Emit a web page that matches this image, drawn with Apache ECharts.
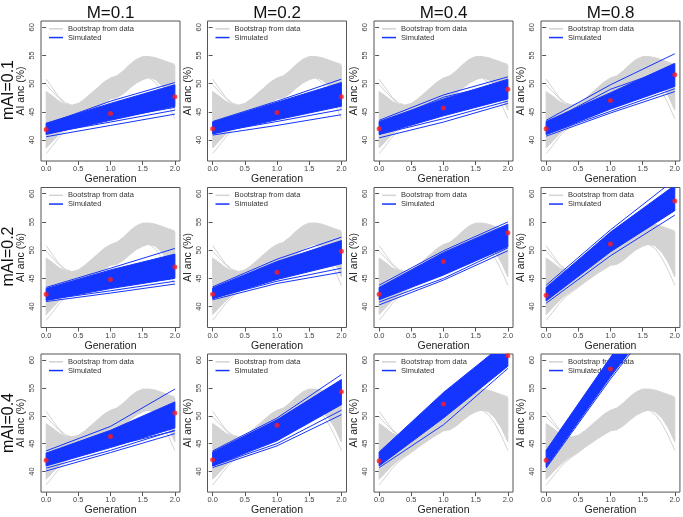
<!DOCTYPE html>
<html><head><meta charset="utf-8">
<script src="https://cdn.jsdelivr.net/npm/echarts@6/dist/echarts.min.js"></script>
<style>html,body{margin:0;padding:0;background:#fff}#c{width:683px;height:517px}</style>
</head><body><div id="c"></div>
<script>
// ---------- labels / ticks ----------
const colLabels = ['M=0.1', 'M=0.2', 'M=0.4', 'M=0.8'];
const rowLabels = ['mAI=0.1', 'mAI=0.2', 'mAI=0.4'];
const generations = [0, 1, 2];
const xTicks = [0, 0.5, 1, 1.5, 2];
const yTicks = [40, 45, 50, 55, 60];

// ---------- bootstrap (gray) curves, same in every panel ----------
const grayX = [0, 0.1, 0.2, 0.3, 0.4, 0.5, 0.6, 0.7, 0.8, 0.9, 1.0, 1.1, 1.2, 1.3, 1.4, 1.5, 1.6, 1.7, 1.8, 1.9, 2.0];
const grayCoreUpper = [48.6, 47.8, 46.9, 46.3, 46.0, 46.4, 47.2, 48.2, 49.2, 50.2, 50.9, 51.3, 52.2, 53.3, 54.2, 54.7, 54.7, 54.5, 54.1, 53.7, 53.2];
const grayCoreLower = [38.6, 39.8, 41.0, 42.0, 42.8, 43.6, 44.4, 45.2, 46.0, 46.7, 47.4, 47.6, 48.3, 49.3, 50.2, 50.8, 51.1, 50.7, 49.6, 47.8, 45.3];
const grayCurve1 = [50.8, 49.2, 47.6, 46.6, 46.2, 46.5, 47.3, 48.3, 49.3, 50.3, 51.0, 51.4, 52.3, 53.4, 54.3, 54.8, 54.8, 54.6, 54.2, 53.8, 53.4];
const grayCurve2 = [49.8, 48.6, 47.4, 46.4, 46.1, 46.4, 47.2, 48.1, 49.1, 50.0, 50.7, 51.1, 52.0, 53.1, 54.0, 54.5, 54.6, 54.3, 53.9, 53.4, 52.9];
const grayCurve3 = [37.6, 39.0, 40.5, 41.7, 42.6, 43.4, 44.3, 45.1, 45.9, 46.6, 47.3, 47.5, 48.2, 49.2, 50.1, 50.7, 51.1, 50.9, 50.0, 48.9, 47.6];
const grayCurve4 = [40.2, 41.1, 41.9, 42.5, 43.0, 43.7, 44.5, 45.3, 46.1, 46.8, 47.5, 47.8, 48.5, 49.5, 50.4, 51.0, 51.0, 50.2, 48.6, 46.4, 43.8];
const grayCurve5 = [46.5, 46.0, 45.6, 45.4, 45.5, 46.0, 46.8, 47.7, 48.6, 49.4, 50.1, 50.4, 51.2, 52.3, 53.2, 53.6, 53.5, 52.6, 51.0, 48.8, 46.0];

// ---------- simulated (blue) bundles and observed (red) points, per panel ----------
// row mAI=0.1
const red_1_1 = [41.9, 44.7, 47.7], blueLo_1_1 = [41.0, 43.5, 46.0], blueHi_1_1 = [43.0, 46.5, 49.8];
const blueLines_1_1 = [[40.6, 42.6, 44.6], [41.2, 43.2, 45.3], [41.5, 43.8, 45.8], [42.8, 46.9, 50.2]];
const red_1_2 = [42.0, 44.9, 47.7], blueLo_1_2 = [41.1, 43.6, 46.0], blueHi_1_2 = [43.2, 46.7, 50.2];
const blueLines_1_2 = [[40.9, 42.6, 44.5], [41.3, 43.3, 45.4], [43.3, 46.9, 50.8]];
const red_1_3 = [42.0, 45.7, 49.0], blueLo_1_3 = [41.0, 44.3, 47.3], blueHi_1_3 = [43.3, 47.3, 50.8];
const blueLines_1_3 = [[40.4, 43.2, 46.5], [43.5, 48.0, 51.2], [42.9, 47.6, 50.3], [41.0, 43.8, 46.9]];
const red_1_4 = [42.0, 47.0, 51.6], blueLo_1_4 = [41.0, 45.5, 49.5], blueHi_1_4 = [43.3, 48.4, 53.6];
const blueLines_1_4 = [[40.7, 44.8, 48.6], [43.5, 49.8, 55.3], [43.0, 49.0, 53.0], [41.0, 45.1, 49.1]];
// row mAI=0.2
const red_2_1 = [42.2, 44.8, 47.0], blueLo_2_1 = [41.1, 43.2, 45.0], blueHi_2_1 = [43.2, 46.5, 49.3];
const blueLines_2_1 = [[40.9, 42.4, 44.0], [41.2, 42.8, 44.5], [43.4, 46.8, 50.3], [42.0, 44.2, 46.0]];
const red_2_2 = [42.2, 46.1, 49.8], blueLo_2_2 = [41.4, 44.8, 47.6], blueHi_2_2 = [43.3, 48.0, 51.7];
const blueLines_2_2 = [[41.2, 44.1, 46.1], [41.5, 44.5, 46.8], [43.5, 48.4, 52.3], [42.0, 45.5, 47.8]];
const red_2_3 = [42.2, 48.0, 53.1], blueLo_2_3 = [41.2, 45.6, 50.6], blueHi_2_3 = [43.4, 49.6, 54.6];
const blueLines_2_3 = [[40.3, 44.7, 49.9], [40.8, 45.0, 50.4], [43.8, 49.9, 55.0]];
const red_2_4 = [42.0, 51.1, 58.7], blueLo_2_4 = [41.0, 49.7, 57.0], blueHi_2_4 = [43.4, 53.2, 61.5];
const blueLines_2_4 = [[40.6, 49.0, 56.2], [43.8, 53.6, 62.5]];
// row mAI=0.4
const red_3_1 = [42.0, 46.3, 50.5], blueLo_3_1 = [41.0, 44.3, 47.8], blueHi_3_1 = [43.3, 47.4, 52.5];
const blueLines_3_1 = [[40.1, 43.4, 46.8], [40.6, 43.8, 47.4], [43.7, 48.1, 54.8], [42.3, 46.0, 49.8], [41.5, 44.5, 47.3]];
const red_3_2 = [42.1, 48.3, 54.3], blueLo_3_2 = [41.0, 45.5, 52.0], blueHi_3_2 = [43.5, 49.3, 56.5];
const blueLines_3_2 = [[40.7, 44.6, 50.2], [41.0, 45.0, 51.0], [43.7, 49.6, 57.4]];
const red_3_3 = [41.9, 52.1, 60.8], blueLo_3_3 = [41.0, 49.6, 58.9], blueHi_3_3 = [43.5, 54.2, 63.5];
const blueLines_3_3 = [[40.7, 48.4, 58.5]];
const red_3_4 = [42.0, 58.4, 74.5], blueLo_3_4 = [40.8, 57.0, 72.0], blueHi_3_4 = [43.8, 60.5, 77.0];
const blueLines_3_4 = [[40.6, 56.6, 71.5]];

// ---------- build ----------
const GRAY = '#d3d3d3', BLUE = '#1434ff', RED = '#ff1a1a', AXIS = '#555';
const FONT = '"Liberation Sans", Arial, Helvetica, sans-serif';
const boxLeft = [41, 207.5, 374, 541], boxTop = [21, 187.5, 354], W = 139, H = 140;

const panelRed = [[red_1_1, red_1_2, red_1_3, red_1_4], [red_2_1, red_2_2, red_2_3, red_2_4], [red_3_1, red_3_2, red_3_3, red_3_4]];
const panelLo = [[blueLo_1_1, blueLo_1_2, blueLo_1_3, blueLo_1_4], [blueLo_2_1, blueLo_2_2, blueLo_2_3, blueLo_2_4], [blueLo_3_1, blueLo_3_2, blueLo_3_3, blueLo_3_4]];
const panelHi = [[blueHi_1_1, blueHi_1_2, blueHi_1_3, blueHi_1_4], [blueHi_2_1, blueHi_2_2, blueHi_2_3, blueHi_2_4], [blueHi_3_1, blueHi_3_2, blueHi_3_3, blueHi_3_4]];
const panelLines = [[blueLines_1_1, blueLines_1_2, blueLines_1_3, blueLines_1_4], [blueLines_2_1, blueLines_2_2, blueLines_2_3, blueLines_2_4], [blueLines_3_1, blueLines_3_2, blueLines_3_3, blueLines_3_4]];
const grayCurves = [grayCurve1, grayCurve2, grayCurve3, grayCurve4, grayCurve5];

const grids = [], xAxes = [], yAxes = [], series = [], legends = [], graphics = [];

function band(gi, xs, lo, hi, color, z, name) {
  return {
    type: 'custom', name, xAxisIndex: gi, yAxisIndex: gi, clip: true, silent: true, z, animation: false,
    data: [[xs[0], lo[0]]],
    renderItem: (params, api) => {
      const pts = [];
      for (let k = 0; k < xs.length; k++) pts.push(api.coord([xs[k], hi[k]]));
      for (let k = xs.length - 1; k >= 0; k--) pts.push(api.coord([xs[k], lo[k]]));
      return { type: 'polygon', shape: { points: pts }, style: { fill: color, stroke: color, lineWidth: 1 } };
    }
  };
}
function line(gi, xs, ys, color, z, name) {
  return {
    type: 'line', name, xAxisIndex: gi, yAxisIndex: gi, data: xs.map((x, k) => [x, ys[k]]),
    showSymbol: false, symbol: 'none', smooth: false, silent: true, z, animation: false, clip: true,
    lineStyle: { color, width: 1 }, itemStyle: { color }
  };
}

for (let r = 0; r < 3; r++) {
  for (let c = 0; c < 4; c++) {
    const gi = r * 4 + c;
    grids.push({ left: boxLeft[c], top: boxTop[r], width: W, height: H, show: true, borderColor: AXIS, borderWidth: 1, backgroundColor: 'transparent' });
    xAxes.push({
      gridIndex: gi, type: 'value', min: -0.08, max: 2.08,
      axisLine: { show: false }, splitLine: { show: false },
      axisTick: { show: true, length: 4, customValues: xTicks, lineStyle: { color: AXIS } },
      axisLabel: { customValues: xTicks, formatter: v => v.toFixed(1), fontSize: 7.5, color: '#444', margin: 4, fontFamily: FONT },
      name: 'Generation', nameLocation: 'middle', nameGap: 12,
      nameTextStyle: { fontSize: 10.5, color: '#222', fontFamily: FONT }
    });
    yAxes.push({
      gridIndex: gi, type: 'value', min: 36.3, max: 61.1,
      axisLine: { show: false }, splitLine: { show: false },
      axisTick: { show: true, length: 4, customValues: yTicks, lineStyle: { color: AXIS } },
      axisLabel: { customValues: yTicks, rotate: 90, fontSize: 7.5, color: '#444', margin: 5, fontFamily: FONT },
      name: 'AI anc (%)', nameLocation: 'middle', nameGap: 12, nameRotate: 90,
      nameTextStyle: { fontSize: 10.5, color: '#222', fontFamily: FONT }
    });
    // gray bootstrap
    series.push(band(gi, grayX, grayCoreLower, grayCoreUpper, GRAY, 2, 'Bootstrap from data'));
    grayCurves.forEach(gc => series.push(line(gi, grayX, gc, GRAY, 2, 'Bootstrap from data')));
    // blue simulated
    series.push(band(gi, generations, panelLo[r][c], panelHi[r][c], BLUE, 3, 'Simulated'));
    panelLines[r][c].forEach(bl => series.push(line(gi, generations, bl, BLUE, 3, 'Simulated')));
    // red observed
    series.push({
      type: 'scatter', xAxisIndex: gi, yAxisIndex: gi, clip: true, silent: true, z: 5, animation: false,
      data: generations.map((x, k) => [x, panelRed[r][c][k]]),
      symbol: 'circle', symbolSize: 5, itemStyle: { color: RED }
    });
    legends.push({
      left: boxLeft[c] + 8, top: boxTop[r] + 3.5, orient: 'vertical', padding: 0, itemGap: 0,
      itemWidth: 14, itemHeight: 1.5, icon: 'rect', selectedMode: false, z: 1,
      textStyle: { fontSize: 7.5, color: '#333', lineHeight: 8.7, fontFamily: FONT },
      data: [{ name: 'Bootstrap from data', itemStyle: { color: GRAY } }, { name: 'Simulated', itemStyle: { color: BLUE } }]
    });
  }
}
colLabels.forEach((t, c) => graphics.push({
  type: 'text', x: boxLeft[c] + W / 2, y: 13,
  style: { text: t, font: '17px ' + FONT, fill: '#111', textAlign: 'center', textVerticalAlign: 'middle' }
}));
rowLabels.forEach((t, r) => graphics.push({
  type: 'text', x: 9, y: boxTop[r] + H / 2 - 1, rotation: Math.PI / 2,
  style: { text: t, font: '16px ' + FONT, fill: '#111', textAlign: 'center', textVerticalAlign: 'middle' }
}));

const chart = echarts.init(document.getElementById('c'), null, { renderer: 'canvas' });
chart.setOption({
  animation: false, backgroundColor: '#fff',
  grid: grids, xAxis: xAxes, yAxis: yAxes, series, legend: legends, graphic: graphics
});
</script></body></html>
